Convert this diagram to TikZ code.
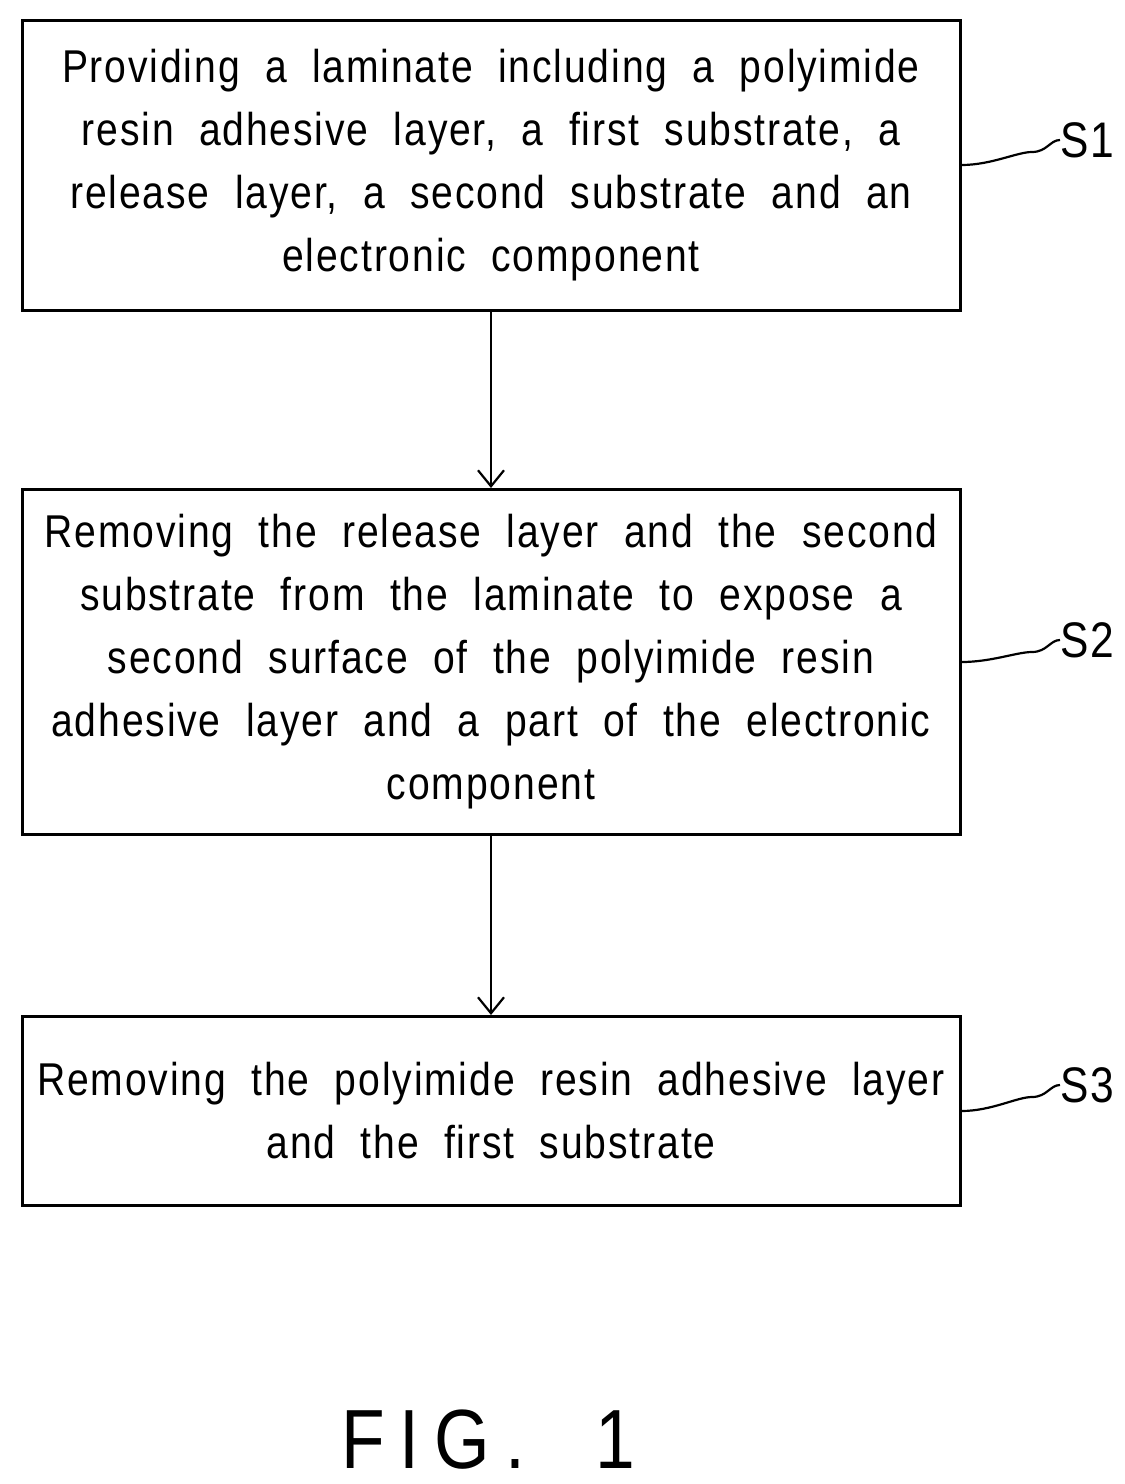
\documentclass[tikz,border=0pt]{standalone}
\usepackage{fontspec}
\setmainfont{Liberation Sans}[FakeStretch=0.85,LetterSpace=4,WordSpace=2]
\newfontfamily\figfont{Liberation Sans}[FakeStretch=0.85,LetterSpace=18,WordSpace=2]
\usetikzlibrary{arrows.meta}
\begin{document}
\begin{tikzpicture}[x=1pt,y=-1pt,
 box/.style={draw,line width=3pt,minimum width=938pt,align=center,inner sep=0pt,
   font=\fontsize{46}{63}\selectfont},
 arr/.style={line width=2.2pt,-{Straight Barb[length=16pt,width=26pt,line width=2.2pt]}},
 sq/.style={line width=2.2pt},
 lab/.style={font=\fontsize{50}{50}\selectfont,anchor=west,inner sep=0pt}]
\useasboundingbox (0,0) rectangle (1125,1484);
\node[box,minimum height=290pt] (b1) at (491,165) {Providing a laminate including a polyimide\\resin adhesive layer, a first substrate, a\\release layer, a second substrate and an\\electronic component};
\node[box,minimum height=345pt] (b2) at (491,662) {Removing the release layer and the second\\substrate from the laminate to expose a\\second surface of the polyimide resin\\adhesive layer and a part of the electronic\\component};
\node[box,minimum height=189pt] (b3) at (491,1111) {Removing the polyimide resin adhesive layer\\and the first substrate};
\draw[arr] (b1.south) -- (b2.north);
\draw[arr] (b2.south) -- (b3.north);
\node[lab] (s1) at (1060,140) {S1};
\node[lab] (s2) at (1060,640) {S2};
\node[lab] (s3) at (1060,1085) {S3};
\foreach \b/\s in {b1/s1,b2/s2,b3/s3}{
 \draw[sq] (\b.east) .. controls +(30,0) and +(-15,0) .. ([xshift=-28pt,yshift=-12pt]\s.west)
   .. controls +(15,0) and +(-10,0) .. (\s.west);}
\node[font=\figfont\fontsize{84}{84}\selectfont] (fig) at (488,1440) {FIG. 1};
\end{tikzpicture}
\end{document}
